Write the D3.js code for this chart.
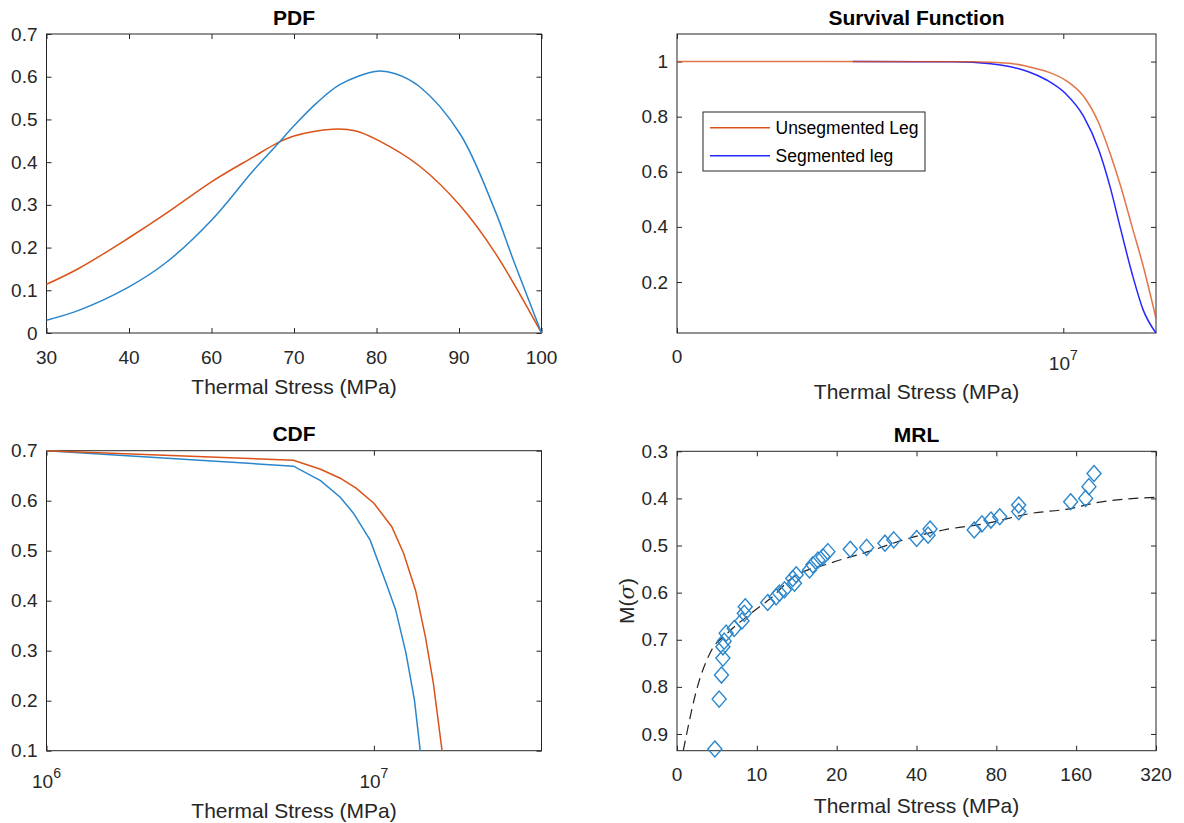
<!DOCTYPE html>
<html>
<head>
<meta charset="utf-8">
<script src="https://cdn.jsdelivr.net/npm/d3@7"></script>
<style>
body { margin: 0; background: #fff; }
svg text { font-family: "Liberation Sans", Arial, Helvetica, sans-serif; }
</style>
</head>
<body>
<svg id="fig" width="1184" height="823"></svg>
<script>
// ---- PDF ----
var pdfTicks = [30, 40, 60, 70, 80, 90, 100];
var pdfStressSeg = [30, 33.9, 40, 49, 60, 65.1, 67.9, 70, 72.7, 75.6, 80.1, 82.3, 85.2, 90.1, 94.3, 96.7, 100];
var pdfSeg = [0.03, 0.053, 0.108, 0.165, 0.264, 0.381, 0.44, 0.485, 0.5375, 0.582, 0.613, 0.607, 0.577, 0.467, 0.29, 0.165, 0];
var pdfStressUnseg = [30, 33.9, 40, 49, 60, 65.1, 67.9, 70, 74.7, 77.5, 80.1, 85.2, 90.1, 94.3, 100];
var pdfUnseg = [0.114, 0.151, 0.223, 0.28, 0.354, 0.4125, 0.444, 0.461, 0.477, 0.473, 0.452, 0.391, 0.299, 0.19, 0];
var pdfYTicks = [0, 0.1, 0.2, 0.3, 0.4, 0.5, 0.6, 0.7];

// ---- Survival ----
var survStressUnseg = [0, 3.78e6, 7.64e6, 8.6e6, 9.08e6, 9.57e6, 1.005e7, 1.053e7, 1.092e7, 1.121e7, 1.149e7, 1.178e7, 1.207e7, 1.24e7];
var survUnseg = [1, 1, 0.999, 0.994, 0.982, 0.964, 0.933, 0.873, 0.776, 0.667, 0.546, 0.401, 0.257, 0.068];
var survStressSeg = [4.55e6, 7.16e6, 8.12e6, 8.6e6, 9.08e6, 9.57e6, 1.005e7, 1.053e7, 1.092e7, 1.121e7, 1.149e7, 1.178e7, 1.207e7, 1.24e7];
var survSeg = [1, 0.999, 0.992, 0.982, 0.964, 0.933, 0.885, 0.8, 0.679, 0.546, 0.389, 0.231, 0.098, 0.015];
var survYTicks = [0.2, 0.4, 0.6, 0.8, 1];
var survXTicks = [0, 1e7];
var legendNames = ['Unsegmented Leg', 'Segmented leg'];

// ---- CDF ----
var cdfStressUnseg = [1e6, 5.68e6, 6.87e6, 7.89e6, 8.82e6, 1e7, 1.134e7, 1.232e7, 1.34e7, 1.436e7, 1.519e7, 1.615e7];
var cdfUnseg = [0.7, 0.681, 0.663, 0.645, 0.625, 0.595, 0.548, 0.495, 0.421, 0.328, 0.235, 0.1];
var cdfStressSeg = [1e6, 5.68e6, 6.87e6, 7.89e6, 8.66e6, 9.74e6, 1.09e7, 1.166e7, 1.253e7, 1.33e7, 1.385e7];
var cdfSeg = [0.7, 0.669, 0.64, 0.607, 0.575, 0.521, 0.435, 0.381, 0.295, 0.201, 0.1];
var cdfYTicks = [0.1, 0.2, 0.3, 0.4, 0.5, 0.6, 0.7];
var cdfXTicks = [1e6, 1e7];

// ---- MRL ----
var mrlTicks = [0, 10, 20, 40, 80, 160, 320];
var mrlYTicks = [0.3, 0.4, 0.5, 0.6, 0.7, 0.8, 0.9];
var mrlStress = [4.74, 5.28, 5.57, 5.75, 5.75, 5.91, 6.16, 7.17, 8.14, 8.43, 8.55, 11.36, 12.41, 12.83, 13.46,
    14.5, 14.72, 14.93, 16.6, 17.02, 17.65, 18.28, 18.9, 23.4, 27.5, 32.1, 34.3, 40.1, 45.8, 46.8,
    68.9, 72.8, 77.3, 83.4, 102.4, 102.4, 154.5, 179, 185.6, 195.8];
var mrlValue = [0.932, 0.826, 0.775, 0.739, 0.715, 0.703, 0.686, 0.676, 0.66, 0.644, 0.63, 0.621, 0.609, 0.601, 0.594,
    0.57, 0.58, 0.562, 0.552, 0.541, 0.531, 0.524, 0.513, 0.508, 0.504, 0.495, 0.488, 0.485, 0.478, 0.465,
    0.467, 0.454, 0.446, 0.439, 0.428, 0.414, 0.407, 0.4, 0.375, 0.347];
var fitStress = [0.79, 2.56, 4.24, 6.33, 9.27, 12.2, 14.1, 19.1, 28.3, 36.7, 53.5, 75.3, 114.2, 154.5, 195.8, 320];
var fitValue = [0.935, 0.8, 0.725, 0.686, 0.644, 0.605, 0.573, 0.538, 0.512, 0.488, 0.467, 0.453, 0.432, 0.4215, 0.41, 0.3976];

var orange = '#d95319', blue = '#2a86cc', pureBlue = '#2626ff', ink = '#262626';

var svg = d3.select('#fig');

function panel(x0, x1, y0, y1, title) {
    var g = svg.append('g').attr('transform', 'translate(' + x0 + ',' + y0 + ')');
    g.w = x1 - x0;
    g.h = y1 - y0;
    g.append('text')
        .attr('x', g.w / 2)
        .attr('y', -9.5)
        .attr('text-anchor', 'middle')
        .style('font-size', '21px')
        .style('font-weight', 'bold')
        .style('fill', '#000')
        .text(title);
    return g;
}

function frame(g, x, y, xt, yt, yfmt) {
    g.append('g').attr('transform', 'translate(0,' + g.h + ')')
        .call(d3.axisBottom(x).tickValues(xt).tickSize(-5).tickFormat(''));
    g.append('g')
        .call(d3.axisTop(x).tickValues(xt).tickSize(-5).tickFormat(''));
    g.append('g')
        .call(d3.axisLeft(y).tickValues(yt).tickSize(-5).tickPadding(9).tickFormat(yfmt));
    g.append('g').attr('transform', 'translate(' + g.w + ',0)')
        .call(d3.axisRight(y).tickValues(yt).tickSize(-5).tickFormat(''));
    g.selectAll('.domain').remove();
    g.selectAll('.tick line').attr('stroke', ink);
    g.selectAll('.tick text')
        .attr('font-family', null)
        .style('font-size', '19px')
        .style('fill', ink);
    g.append('rect')
        .attr('width', g.w)
        .attr('height', g.h)
        .attr('fill', 'none')
        .attr('stroke', ink)
        .attr('stroke-width', 1);
}

function xLabels(g, x, vals, fmt, dy) {
    g.selectAll('.xlab')
        .data(vals)
        .enter()
        .append('text')
        .attr('class', 'xlab')
        .attr('x', function(d) { return x(d); })
        .attr('y', g.h + dy)
        .attr('text-anchor', 'middle')
        .style('font-size', '19px')
        .style('fill', ink)
        .text(fmt);
}

function powLabels(g, x, vals, dy) {
    vals.forEach(function(v) {
        var t = g.append('text')
            .attr('x', x(v))
            .attr('text-anchor', 'middle')
            .style('font-size', '19px')
            .style('fill', ink);
        if (v === 0) {
            t.attr('y', g.h + 30).text('0');
        } else {
            t.attr('y', g.h + dy).text('10');
            t.append('tspan').attr('dy', -10).style('font-size', '14px')
                .text(Math.round(Math.log10(v)));
        }
    });
}

function xTitle(g, dy) {
    g.append('text')
        .attr('x', g.w / 2)
        .attr('y', g.h + dy)
        .attr('text-anchor', 'middle')
        .style('font-size', '21px')
        .style('fill', ink)
        .text('Thermal Stress (MPa)');
}

function curve(g, x, y, xs, ys, color, kind) {
    var line = d3.line()
        .x(function(d) { return x(d[0]); })
        .y(function(d) { return y(d[1]); })
        .curve(kind);
    return g.append('path')
        .datum(d3.zip(xs, ys))
        .attr('d', line)
        .attr('fill', 'none')
        .attr('stroke', color)
        .attr('stroke-width', 1.5);
}

var fmt1 = d3.format('.1f');
function yfmtTrim(d) { return d === 0 ? '0' : (d === 1 ? '1' : fmt1(d)); }

// ---------------- PDF ----------------
var g1 = panel(46.5, 541.5, 34, 333, 'PDF');
var x1 = d3.scaleLinear().domain(pdfTicks).range(pdfTicks.map(function(d, i) { return i * g1.w / 6; }));
var y1 = d3.scaleLinear().domain([0, 0.7]).range([g1.h, 0]);
frame(g1, x1, y1, pdfTicks, pdfYTicks, yfmtTrim);
xLabels(g1, x1, pdfTicks, function(d) { return d; }, 31);
xTitle(g1, 61);
curve(g1, x1, y1, pdfStressUnseg, pdfUnseg, orange, d3.curveCatmullRom.alpha(0.5));
curve(g1, x1, y1, pdfStressSeg, pdfSeg, blue, d3.curveCatmullRom.alpha(0.5));

// ---------------- Survival ----------------
var g2 = panel(677, 1156, 34, 333, 'Survival Function');
var x2 = d3.scaleLinear().domain([0, 1.24e7]).range([0, g2.w]);
var y2 = d3.scaleLinear().domain([0.015, 1.1]).range([g2.h, 0]);
frame(g2, x2, y2, survXTicks, survYTicks, yfmtTrim);
powLabels(g2, x2, survXTicks, 37);
xTitle(g2, 66);
curve(g2, x2, y2, survStressSeg, survSeg, pureBlue, d3.curveMonotoneX);
curve(g2, x2, y2, survStressUnseg, survUnseg, orange, d3.curveMonotoneX).attr('stroke-opacity', 0.8);

var leg = g2.append('g').attr('transform', 'translate(26,78)');
leg.append('rect')
    .attr('width', 222)
    .attr('height', 59)
    .attr('fill', '#fff')
    .attr('stroke', ink);
leg.selectAll('.item')
    .data(legendNames)
    .enter()
    .append('g')
    .attr('class', 'item')
    .attr('transform', function(d, i) { return 'translate(0,' + (15.7 + i * 28) + ')'; })
    .each(function(d, i) {
        var it = d3.select(this);
        it.append('line')
            .attr('x1', 7).attr('x2', 67)
            .attr('stroke', i === 0 ? orange : pureBlue)
            .attr('stroke-width', 1.5);
        it.append('text')
            .attr('x', 72.5)
            .attr('y', 6.5)
            .style('font-size', '17.5px')
            .style('fill', '#000')
            .text(d);
    });

// ---------------- CDF ----------------
var g3 = panel(46.5, 541.5, 450.7, 750.7, 'CDF');
var x3 = d3.scaleLog().domain([1e6, 3.25e7]).range([0, g3.w]);
var y3 = d3.scaleLinear().domain([0.1, 0.7]).range([g3.h, 0]);
frame(g3, x3, y3, cdfXTicks, cdfYTicks, fmt1);
powLabels(g3, x3, cdfXTicks, 37.5);
xTitle(g3, 67.5);
curve(g3, x3, y3, cdfStressSeg, cdfSeg, blue, d3.curveLinear);
curve(g3, x3, y3, cdfStressUnseg, cdfUnseg, orange, d3.curveLinear);

// ---------------- MRL ----------------
var g4 = panel(677, 1156, 451.3, 750.7, 'MRL');
var x4 = d3.scaleLinear().domain(mrlTicks).range(mrlTicks.map(function(d, i) { return i * g4.w / 6; }));
var y4 = d3.scaleLinear().domain([0.3, 0.9355]).range([0, g4.h]);
frame(g4, x4, y4, mrlTicks, mrlYTicks, fmt1);
xLabels(g4, x4, mrlTicks, function(d) { return d; }, 30.5);
xTitle(g4, 62.5);

g4.append('text')
    .attr('transform', 'translate(-43,' + (g4.h / 2) + ') rotate(-90)')
    .attr('text-anchor', 'middle')
    .style('font-size', '21px')
    .style('fill', ink)
    .html('M(<tspan font-style="italic" font-family="DejaVu Serif">σ</tspan>)');

g4.append('clipPath').attr('id', 'clipMrl')
    .append('rect').attr('width', g4.w).attr('height', g4.h);
curve(g4, x4, y4, fitStress, fitValue, '#222', d3.curveMonotoneX)
    .attr('stroke-width', 1.2)
    .attr('stroke-dasharray', '10,6')
    .attr('clip-path', 'url(#clipMrl)');

g4.selectAll('.pt')
    .data(d3.zip(mrlStress, mrlValue))
    .enter()
    .append('path')
    .attr('class', 'pt')
    .attr('transform', function(d) { return 'translate(' + x4(d[0]) + ',' + y4(d[1]) + ')'; })
    .attr('d', 'M0,-8L7,0L0,8L-7,0Z')
    .attr('fill', 'none')
    .attr('stroke', blue)
    .attr('stroke-width', 1.4);
</script>
</body>
</html>
